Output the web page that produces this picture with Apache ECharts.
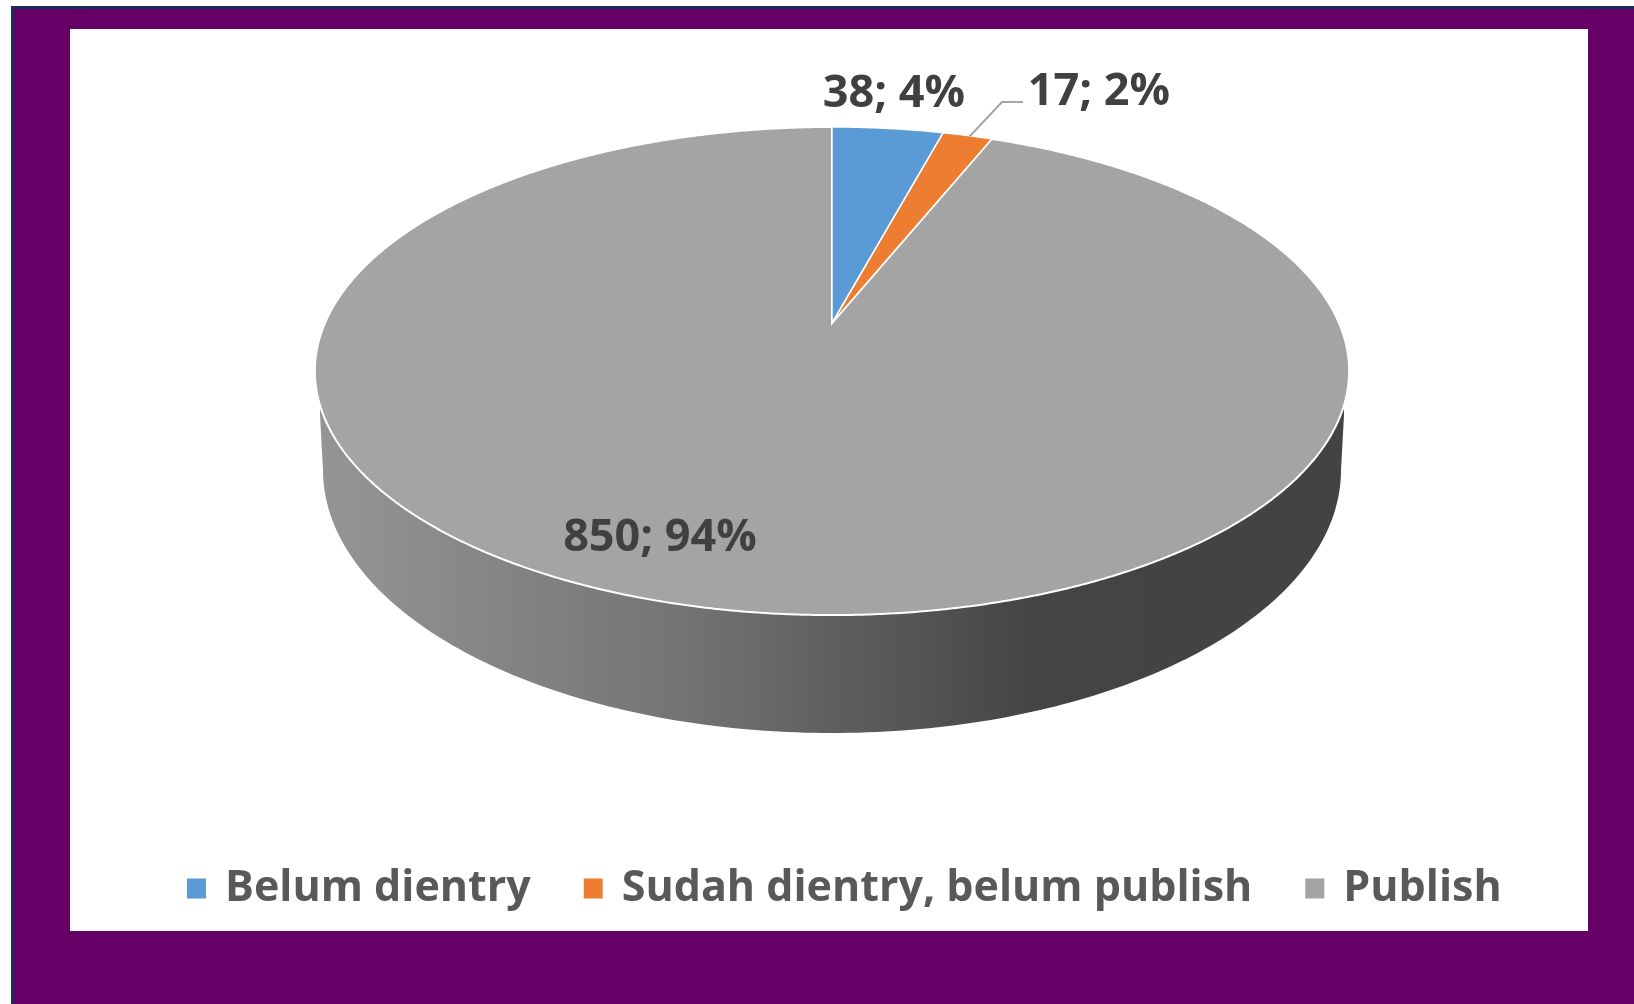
<!DOCTYPE html>
<html>
<head>
<meta charset="utf-8">
<style>html,body{margin:0;padding:0;background:#fff}#c{width:1634px;height:1004px}</style>
<script src="https://cdn.jsdelivr.net/npm/echarts@6/dist/echarts.min.js"></script>
</head>
<body>
<div id="c"></div>
<script>
var categories = ['Belum dientry', 'Sudah dientry, belum publish', 'Publish'];
var values = [38, 17, 850];
var colors = ['#5b9bd5', '#ed7d31', '#a4a4a4'];

var total = values.reduce(function (a, b) { return a + b; }, 0);
// perspective projection of the pie disc
var CX = 832, CY = 323, A = 234.6, B = 507, K = 0.1968;
function project(t) {
  var d = 1 + K * Math.cos(t);
  return [CX + B * Math.sin(t) / d, CY - A * Math.cos(t) / d];
}
var labelPos = [[894, 94], [1099, 92], [660, 538]];

var chart = echarts.init(document.getElementById('c'), null, { renderer: 'canvas' });

function sliceSeries(idx) {
  return {
    type: 'custom',
    name: categories[idx],
    coordinateSystem: 'none',
    silent: true,
    z: 5 - idx + 2,
    itemStyle: { color: colors[idx] },
    data: [values[idx]],
    renderItem: function (params, api) {
      var v = api.value(0);
      var before = 0;
      for (var i = 0; i < idx; i++) before += values[i];
      var t1 = before / total * Math.PI * 2;
      var t2 = (before + v) / total * Math.PI * 2;
      var pts = [[CX, CY]];
      var n = Math.max(4, Math.ceil((t2 - t1) / 0.006));
      for (var j = 0; j <= n; j++) pts.push(project(t1 + (t2 - t1) * j / n));
      var children = [{
        type: 'polygon',
        z2: 1,
        shape: { points: pts },
        style: { fill: colors[idx], stroke: '#fff', lineWidth: idx === 2 ? 2 : 1.5 }
      }];
      if (idx === 1) {
        var m = project((t1 + t2) / 2);
        children.push({
          type: 'polyline',
          z2: 3,
          shape: { points: [[m[0] + 2, m[1] + 1], [1002, 102], [1023, 102]] },
          style: { fill: null, stroke: '#a6a6a6', lineWidth: 2 }
        });
      }
      children.push({
        type: 'text',
        z2: 4,
        style: {
          text: v + '; ' + Math.round(v / total * 100) + '%',
          x: labelPos[idx][0], y: labelPos[idx][1],
          align: 'center', verticalAlign: 'middle',
          fontFamily: 'Open Sans', fontWeight: 'bold', fontSize: 45,
          fill: '#404040'
        }
      });
      return { type: 'group', children: children };
    }
  };
}

var wallSeries = {
  type: 'custom',
  coordinateSystem: 'none',
  silent: true,
  z: 1,
  data: [total],
  renderItem: function () {
    var pts = [[320, 371], [320, 415]];
    for (var a = 180; a >= 0; a -= 1) {
      var r = a * Math.PI / 180;
      pts.push([832 + 509 * Math.cos(r), 470 + 263 * Math.sin(r)]);
    }
    pts.push([1344, 415], [1344, 371]);
    return {
      type: 'polygon',
      shape: { points: pts },
      style: {
        fill: new echarts.graphic.LinearGradient(320, 0, 1344, 0, [
          { offset: 0, color: '#959595' },
          { offset: 0.35, color: '#747474' },
          { offset: 0.70, color: '#444444' },
          { offset: 1, color: '#434343' }
        ], true)
      }
    };
  }
};

chart.setOption({
  animation: false,
  backgroundColor: '#ffffff',
  tooltip: { show: false },
  graphic: [
    { type: 'rect', z: -30, silent: true, shape: { x: 11, y: 6, width: 1623, height: 998 }, style: { fill: '#17305a' } },
    { type: 'rect', z: -29, silent: true, shape: { x: 14, y: 9, width: 1620, height: 995 }, style: { fill: '#660066' } },
    { type: 'rect', z: -28, silent: true, shape: { x: 70, y: 29, width: 1518, height: 902 }, style: { fill: '#ffffff' } }
  ],
  legend: {
    data: categories,
    left: 187,
    top: 867,
    orient: 'horizontal',
    icon: 'rect',
    itemWidth: 19,
    itemHeight: 20,
    itemGap: 53,
    padding: 0,
    selectedMode: false,
    textStyle: { fontFamily: 'Open Sans', fontWeight: 'bold', fontSize: 43, color: '#595959', padding: [0, 0, 0, 14] }
  },
  series: [wallSeries, sliceSeries(2), sliceSeries(1), sliceSeries(0)]
});
</script>
</body>
</html>
